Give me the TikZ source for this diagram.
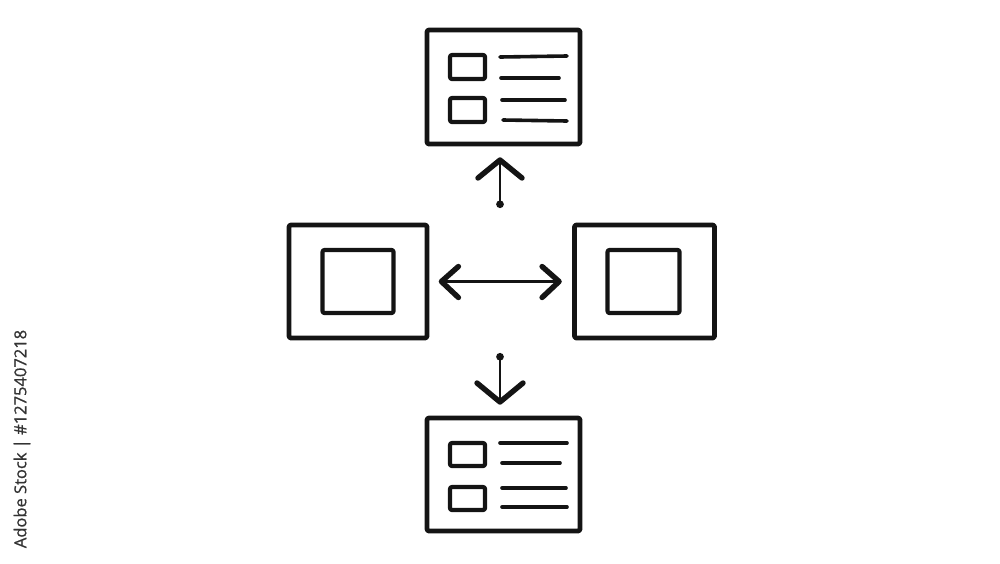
\documentclass[tikz,border=0pt]{standalone}
\usepackage{fontspec}
\newfontfamily\wmfont{Open Sans}[FakeBold=0.8]
\usetikzlibrary{arrows.meta,calc}
\begin{document}
\begin{tikzpicture}[x=1pt,y=-1pt,
  box/.style={draw=black!92,line width=4.8pt,rounded corners=2pt,inner sep=0pt,line join=round},
  icon/.style={draw=black!92,line width=4.2pt,rounded corners=2pt,line join=round},
  txtline/.style={draw=black!92,line width=3.6pt,line cap=round},
  conn/.style={draw=black!92,line width=2.8pt,line cap=round},
  chev/.style={draw=black!92,line width=5.4pt,line cap=round,line join=round}]
\useasboundingbox (0,0) rectangle (1000,563);
% top card
\node[box,minimum width=153pt,minimum height=114pt] (top) at (503.5,87) {};
\draw[icon] (450,55) rectangle (485,79);
\draw[icon] (450,98) rectangle (485,122);
\draw[txtline] (500,57) -- (567,56);
\draw[txtline] (501,78) -- (559,78);
\draw[txtline] (502,100) -- (565,100);
\draw[txtline] (503,120) -- (567,121);
% middle boxes
\node[box,minimum width=138pt,minimum height=113pt] (L) at (358,281.5) {};
\node[box,minimum width=140pt,minimum height=113pt] (R) at (644.5,281.5) {};
\node[icon,inner sep=0pt,minimum width=71pt,minimum height=63pt] (Li) at (L.center) {};
\node[icon,inner sep=0pt,minimum width=72pt,minimum height=63pt] (Ri) at (643.5,281.5) {};
% bottom card
\node[box,minimum width=153pt,minimum height=113pt] (bot) at (503.5,474.5) {};
\draw[icon] (450,443) rectangle (485,466);
\draw[icon] (450,487) rectangle (485,510);
\draw[txtline] (500,443) -- (567,443);
\draw[txtline] (502,463) -- (560,463);
\draw[txtline] (502,488) -- (566,488);
\draw[txtline] (502,507) -- (567,507);
% connectors
\coordinate (upfrom) at (500,208);
\coordinate (upto) at (500,160);
\coordinate (downfrom) at (500,353);
\coordinate (downto) at (500,402);
\coordinate (la) at ($(L.east)+(12,0)$);
\coordinate (ra) at ($(R.west)+(-13,0)$);
\draw[conn,{Circle[length=7.5pt,width=7.5pt]}-] (upfrom) -- (upto);
\draw[chev] ($(upto)+(-22,18)$) -- (upto) -- ($(upto)+(22,18)$);
\draw[conn,{Circle[length=7.5pt,width=7.5pt]}-] (downfrom) -- (downto);
\draw[chev] ($(downto)+(-23,-19)$) -- (downto) -- ($(downto)+(23,-19)$);
\draw[conn] (la) -- (ra);
\draw[chev] ($(la)+(17,-15)$) -- (la) -- ($(la)+(17,16)$);
\draw[chev] ($(ra)+(-17,-15)$) -- (ra) -- ($(ra)+(-17,16)$);
% watermark
\node[rotate=90,text=black!80,font=\wmfont\fontsize{16.5}{20}\selectfont,inner sep=0pt] (wm) at (22,439) {Adobe Stock | \#1275407218};
\end{tikzpicture}
\end{document}
